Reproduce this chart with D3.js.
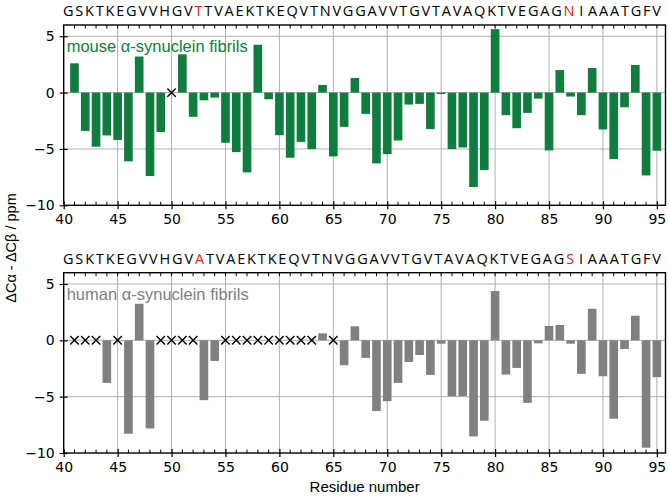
<!DOCTYPE html>
<meta charset="utf-8">
<title>Secondary chemical shifts</title>
<style>
  body { margin: 0; background: #fff; }
  svg { display: block; }
  .tick text { font-family: "DejaVu Sans", sans-serif; font-size: 14px; fill: #000; }
  .seq { font-family: "Open Sans", "Noto Sans", sans-serif; font-size: 14.5px; }
  .grid line { stroke: #b0b0b0; stroke-width: 1; }
</style>
<body>
<script src="https://cdn.jsdelivr.net/npm/d3@7"></script>
<script>
  var width = 670, height = 497;

  var residues = d3.range(41, 96);

  // null = not assigned (drawn as x)
  var mouse = [2.6, -3.4, -4.8, -3.8, -4.2, -6.1, 3.2, -7.4, -3.5, null,
    3.4, -2.15, -0.68, -0.44, -4.45, -5.28, -7.08, 4.25, -0.59, -3.78,
    -5.78, -4.37, -5.01, 0.68, -5.66, -3.04, 1.3, -1.89, -6.28, -5.46,
    -4.25, -1.06, -1.0, -3.24, -0.12, -5.01, -4.87, -8.38, -6.87, 5.63,
    -2.0, -3.16, -1.8, -0.53, -5.13, 2.0, -0.35, -2.0, 2.18, -3.27,
    -5.9, -1.3, 2.45, -7.35, -5.16];

  var human = [null, null, null, -3.78, null, -8.29, 3.24, -7.82, null, null,
    null, null, -5.31, -1.83, null, null, null, null, null, null,
    null, null, null, 0.62, null, -2.21, 1.24, -1.56, -6.28, -5.4,
    -3.78, -1.92, -1.3, -3.07, -0.3, -4.96, -4.96, -8.53, -7.14, 4.37,
    -3.04, -2.45, -5.55, -0.27, 1.27, 1.36, -0.3, -2.98, 2.8, -3.19,
    -6.96, -0.77, 2.18, -9.53, -3.27];

  var mouseSeq = "GSKTKEGVVHGVTTVAEKTKEQVTNVGGAVVTGVTAVAQKTVEGAGN I AAATGFV";
  var humanSeq = "GSKTKEGVVHGVATVAEKTKEQVTNVGGAVVTGVTAVAQKTVEGAGS I AAATGFV";
  var mouseMut = [12, 46];   // letter index shown in red
  var humanMut = [12, 46];

  var xTicks = d3.range(40, 96, 5);
  var yTicks = [5, 0, -5, -10];

  var left = 63.7, right = 665.5;

  var x = d3.scaleLinear().domain([40, 95.8]).range([left, right]);

  var svg = d3.select("body").append("svg")
    .attr("width", width)
    .attr("height", height);

  function fmt(d) { return d < 0 ? "\u2212" + Math.abs(d) : "" + d; }

  function panel(top, bottom, values, seq, mut, color, label) {
    var y = d3.scaleLinear().domain([-10, 6]).range([bottom, top]);
    var g = svg.append("g");

    // grid
    var grid = g.append("g").attr("class", "grid");
    grid.selectAll(".gx").data(xTicks.filter(d => d > 40))
      .enter().append("line")
      .attr("x1", d => x(d)).attr("x2", d => x(d))
      .attr("y1", top).attr("y2", bottom);
    grid.selectAll(".gy").data([5, 0, -5])
      .enter().append("line")
      .attr("x1", left).attr("x2", right)
      .attr("y1", d => y(d)).attr("y2", d => y(d));

    var bw = x(0.8) - x(0);
    var data = residues.map((r, i) => ({ r: r, v: values[i] }));

    g.append("g").selectAll("rect").data(data.filter(d => d.v !== null))
      .enter().append("rect")
      .attr("x", d => x(d.r) - bw / 2)
      .attr("width", bw)
      .attr("y", d => y(Math.max(0, d.v)))
      .attr("height", d => Math.abs(y(d.v) - y(0)))
      .attr("fill", color);

    g.append("g").selectAll("path").data(data.filter(d => d.v === null))
      .enter().append("path")
      .attr("d", d => {
        var cx = x(d.r), cy = y(0), s = 4.2;
        return `M${cx - s},${cy - s}L${cx + s},${cy + s}M${cx - s},${cy + s}L${cx + s},${cy - s}`;
      })
      .attr("stroke", "#000")
      .attr("stroke-width", 1.4)
      .attr("fill", "none");

    // label
    g.append("text")
      .attr("x", left + 3)
      .attr("y", y(3.6))
      .attr("font-family", "Arial, 'Liberation Sans', sans-serif")
      .attr("font-size", 16.5)
      .attr("fill", color)
      .text(label);

    // axes
    var xAxis = g.append("g")
      .attr("transform", `translate(0,${bottom})`)
      .call(d3.axisBottom(x).tickValues(xTicks).tickSize(4).tickPadding(5).tickFormat(d => d));
    xAxis.select(".domain").remove();
    xAxis.selectAll(".tick line").attr("y1", -4).attr("stroke-width", 1.2);

    var minor = d3.range(41, 96).filter(d => d % 5 !== 0);
    g.append("g").selectAll("line").data(minor)
      .enter().append("line")
      .attr("x1", d => x(d)).attr("x2", d => x(d))
      .attr("y1", bottom).attr("y2", bottom - 3.5)
      .attr("stroke", "#000").attr("stroke-width", 1);
    g.append("g").selectAll("line").data(d3.range(41, 96))
      .enter().append("line")
      .attr("x1", d => x(d)).attr("x2", d => x(d))
      .attr("y1", top).attr("y2", top + 3.5)
      .attr("stroke", "#000").attr("stroke-width", 1);

    var yAxis = g.append("g")
      .attr("transform", `translate(${left},0)`)
      .call(d3.axisLeft(y).tickValues(yTicks).tickSize(4).tickPadding(5).tickFormat(fmt));
    yAxis.select(".domain").remove();
    yAxis.selectAll(".tick line").attr("x1", 4).attr("stroke-width", 1.2);

    g.append("rect")
      .attr("x", left).attr("y", top)
      .attr("width", right - left).attr("height", bottom - top)
      .attr("fill", "none").attr("stroke", "#000").attr("stroke-width", 1.4);

    // sequence
    var t = svg.append("text")
      .attr("class", "seq")
      .attr("x", 63)
      .attr("y", top - 9)
      .attr("textLength", 598)
      .attr("lengthAdjust", "spacing");
    seq.replace(/ /g, "").split("").forEach((c, i) => {
      t.append("tspan")
        .attr("fill", mut.includes(i) ? "#e0201b" : "#000")
        .attr("dx", i === 47 || i === 48 ? 3 : null)
        .text(c);
    });
  }

  panel(25, 205.3, mouse, mouseSeq, mouseMut, "#0f7d3e", "mouse \u03b1-synuclein fibrils");
  panel(272.7, 453, human, humanSeq, humanMut, "#808080", "human \u03b1-synuclein fibrils");

  svg.append("text")
    .attr("x", (left + right) / 2)
    .attr("y", 492)
    .attr("text-anchor", "middle")
    .attr("font-family", "Arial, 'Liberation Sans', sans-serif")
    .attr("font-size", 15)
    .text("Residue number");

  svg.append("text")
    .attr("transform", "translate(16,248) rotate(-90)")
    .attr("text-anchor", "middle")
    .attr("font-family", "Arial, 'Liberation Sans', sans-serif")
    .attr("font-size", 14.5)
    .text("\u0394C\u03b1 - \u0394C\u03b2 / ppm");
</script>
</body>
